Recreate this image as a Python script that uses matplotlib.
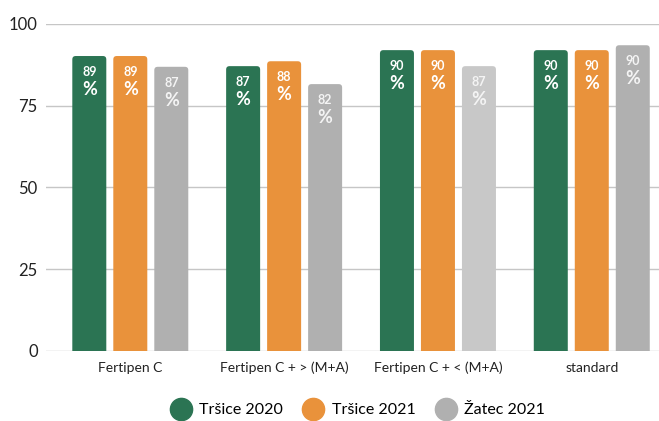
import numpy as np
import matplotlib
matplotlib.use('Agg')
from matplotlib import pyplot as plt
from matplotlib.patches import FancyBboxPatch
from matplotlib.lines import Line2D

plt.rcParams['font.family'] = ['Lato', 'DejaVu Sans']

categories = ['Fertipen C', 'Fertipen C + > (M+A)', 'Fertipen C + < (M+A)', 'standard']
series_names = ['Tršice 2020', 'Tršice 2021', 'Žatec 2021']

# bar heights as drawn, labels as printed on the bars
trsice_2020 = [90.2, 87.1, 92.0, 92.0]
trsice_2021 = [90.2, 88.6, 92.0, 92.0]
zatec_2021 = [86.9, 81.6, 87.1, 93.5]
labels_2020 = ['89', '87', '90', '90']
labels_2021 = ['89', '88', '90', '90']
labels_zatec = ['87', '82', '87', '90']

green = '#2b7453'
orange = '#e9923b'
grey = '#b0b0b0'
light_grey = '#c8c8c8'

fig = plt.figure(figsize=(6.59, 4.21), dpi=100)
ax = fig.add_axes([46 / 659, 1 - 350.7 / 421, 1 - 46 / 659, (350.7 - 24) / 421])

x = np.arange(len(categories))
width = 0.221
offset = 0.2665

series = [
    (trsice_2020, labels_2020, [green] * 4),
    (trsice_2021, labels_2021, [orange] * 4),
    (zatec_2021, labels_zatec, [grey, grey, light_grey, grey]),
]

ax.set_xlim(-0.548, 3.437)
ax.set_ylim(0, 100)

# pixels per data unit in x and y (for rounded corners)
px_x = 153.85
px_y = 3.267
aspect = px_x / px_y

for i, (vals, labs, cols) in enumerate(series):
    bars = ax.bar(x + (i - 1) * offset, vals, width, color=cols)
    for b, lab, col in zip(bars, labs, cols):
        b.set_visible(False)
        fb = FancyBboxPatch((b.get_x(), -3), b.get_width(), b.get_height() + 3,
                            boxstyle='round,pad=0,rounding_size=0.022',
                            mutation_aspect=aspect, facecolor=col,
                            edgecolor='none', zorder=3)
        ax.add_patch(fb)
        cx = b.get_x() + b.get_width() / 2
        top = b.get_height()
        txt_col = 'white' if col in (green, orange) else '#f4f4f4'
        ax.annotate(lab, (cx, top), xytext=(0, -11.5), textcoords='offset points',
                    ha='center', va='center', color=txt_col, fontsize=9,
                    fontweight='bold', zorder=4)
        ax.annotate('%', (cx, top), xytext=(0, -24), textcoords='offset points',
                    ha='center', va='center', color=txt_col, fontsize=13,
                    fontweight='bold', zorder=4)

ax.set_yticks([0, 25, 50, 75, 100])
ax.yaxis.grid(True, color='#c6c6c6', linewidth=1)
ax.set_axisbelow(True)
for s in ax.spines.values():
    s.set_visible(False)
ax.tick_params(axis='y', length=0, pad=6, labelsize=12, labelcolor='#222222')
ax.set_xticks(x)
ax.set_xticklabels(categories)
ax.tick_params(axis='x', length=0, pad=8, labelsize=10, labelcolor='#222222')

handles = [Line2D([], [], marker='o', linestyle='none', markersize=16,
                  markerfacecolor=c, markeredgecolor=c)
           for c in (green, orange, grey)]
fig.legend(handles, series_names, loc='center', bbox_to_anchor=(358 / 659, 1 - 410 / 421),
           ncol=3, frameon=False, fontsize=11.5, handletextpad=0.55,
           columnspacing=1.3, handlelength=1.2)

fig.savefig('out.png', dpi=100)
